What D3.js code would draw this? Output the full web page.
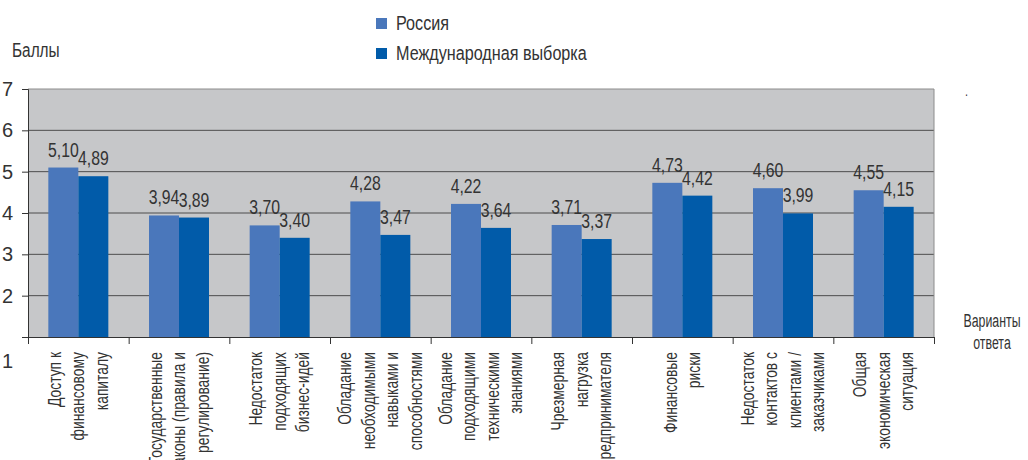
<!DOCTYPE html>
<html><head><meta charset="utf-8">
<script src="https://cdn.jsdelivr.net/npm/d3@7/dist/d3.min.js"></script>
<style>
body{margin:0;background:#fff;}
text{font-family:"Liberation Sans",Arial,sans-serif;fill:#333;}
</style></head>
<body>
<svg id="chart" width="1028" height="460"></svg>
<script>
const categories = [
  ["Доступ к","финансовому","капиталу"],
  ["Государственные","законы (правила и","регулирование)"],
  ["Недостаток","подходящих","бизнес-идей"],
  ["Обладание","необходимыми","навыками и","способностями"],
  ["Обладание","подходящими","техническими","знаниями"],
  ["Чрезмерная","нагрузка","предпринимателя"],
  ["Финансовые","риски"],
  ["Недостаток","контактов с","клиентами /","заказчиками"],
  ["Общая","экономическая","ситуация"]
];
const seriesNames = ["Россия","Международная выборка"];
const russia = [5.10,3.94,3.70,4.28,4.22,3.71,4.73,4.60,4.55];
const intl   = [4.89,3.89,3.40,3.47,3.64,3.37,4.42,3.99,4.15];
const yTicks = [1,2,3,4,5,6,7];
const colors = ["#4a77bb","#015ba9"];

const SX = 0.77; // narrow font emulation
const svg = d3.select("#chart");
const L=28, R=934, T=89, B=337;
const x = d3.scaleBand().domain(d3.range(categories.length)).range([L,R]).padding(0);
const groupW = 60;
const xs = d3.scaleBand().domain([0,1]).range([0,groupW]);
const y = d3.scaleLinear().domain([1,7]).range([B,T]);

function txt(px,py,s,size,anchor,rot,sx){
  return svg.append("text")
    .attr("transform",`translate(${px},${py})${rot?` rotate(${rot})`:""} scale(${sx||SX},1)`)
    .attr("text-anchor",anchor||"start").attr("font-size",size).text(s);
}

svg.append("rect").attr("x",L).attr("y",T).attr("width",R-L).attr("height",B-T).attr("fill","#c6c7c9");

svg.append("g").selectAll("line").data(yTicks.filter(v=>v>1&&v<7)).join("line")
  .attr("x1",L).attr("x2",R).attr("y1",d=>y(d)).attr("y2",d=>y(d))
  .attr("stroke","#4d4d4d").attr("stroke-width",1);
svg.append("line").attr("x1",L).attr("x2",R).attr("y1",y(7)).attr("y2",y(7)).attr("stroke","#8c8c8c");
svg.append("line").attr("x1",R).attr("x2",R).attr("y1",T).attr("y2",B).attr("stroke","#8c8c8c");

const series = [russia,intl];
series.forEach((vals,si)=>{
  svg.append("g").selectAll("rect").data(vals).join("rect")
    .attr("x",(d,i)=>x(i)+(x.bandwidth()-groupW)/2+xs(si))
    .attr("width",xs.bandwidth())
    .attr("y",d=>y(d)).attr("height",d=>B-y(d))
    .attr("fill",colors[si]);
});
series.forEach((vals,si)=>{
  vals.forEach((d,i)=>{
    const cx = x(i)+(x.bandwidth()-groupW)/2+xs(si)+xs.bandwidth()/2;
    txt(cx, y(d)-11, d.toFixed(2).replace(".",","), 20.5, "middle");
  });
});

const yAxis = svg.append("g").attr("transform",`translate(${L},0)`)
  .call(d3.axisLeft(y).tickValues(yTicks).tickSize(6).tickPadding(9).tickFormat(d3.format("d")));
yAxis.select(".domain").attr("stroke","#333");
yAxis.selectAll(".tick line").attr("stroke","#333");
yAxis.selectAll(".tick text").attr("font-size",20).attr("fill","#333").style("font-family",null);
yAxis.selectAll(".tick").filter(d=>d===1).select("text").attr("dy","1.5em");

const xb = d3.scaleLinear().domain([0,categories.length]).range([L,R]);
const xAxis = svg.append("g").attr("transform",`translate(0,${B})`)
  .call(d3.axisBottom(xb).tickValues(d3.range(categories.length+1)).tickSize(7).tickFormat(""));
xAxis.select(".domain").attr("stroke","#333");
xAxis.selectAll(".tick line").attr("stroke","#333");

categories.forEach((lines,i)=>{
  const cx = x(i)+x.bandwidth()/2;
  const n = lines.length;
  lines.forEach((ln,j)=>{
    const lx = cx + (j-(n-1)/2)*23.5 + 6;
    txt(lx, 352, ln, 18, "end", -90);
  });
});

seriesNames.forEach((s,i)=>{
  const ly = 23 + i*30;
  svg.append("rect").attr("x",376).attr("y",ly-5).attr("width",11).attr("height",11).attr("fill",colors[i]);
  txt(396, ly+6.5, s, 21, "start");
});

txt(12, 57, "Баллы", 20, "start");
txt(992, 327, "Варианты", 19, "middle", 0, 0.65);
txt(992, 349, "ответа", 19, "middle", 0, 0.65);
txt(965, 96, ".", 14, "start");
</script>
</body></html>
